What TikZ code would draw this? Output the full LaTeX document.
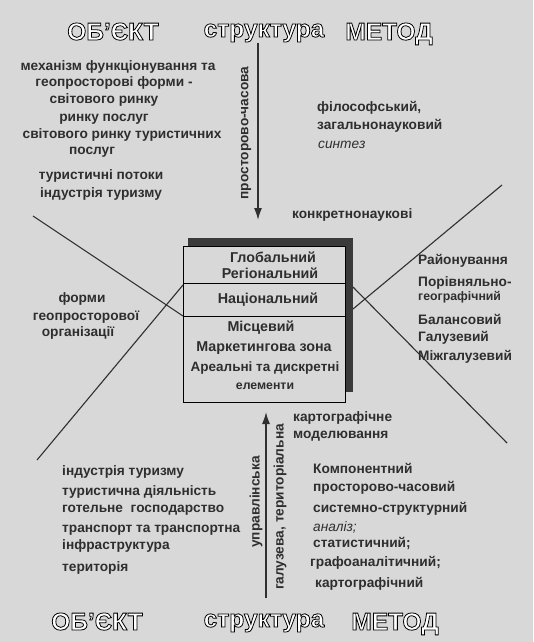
\documentclass[tikz,border=0pt]{standalone}
\usepackage{fontspec}
\setmainfont{Liberation Sans}
\usetikzlibrary{arrows.meta}
\definecolor{bgcol}{HTML}{D8D8D8}
\definecolor{inkcol}{HTML}{2E2E2E}
\definecolor{linecol}{HTML}{303030}
\definecolor{shadecol}{HTML}{3A3A3A}
\newcommand{\outlinetext}[1]{{\color{white}\special{pdf:literal direct 0 G 2 Tr 0.8 w}#1\special{pdf:literal direct 0 Tr}}}
\tikzset{
  txt/.style={font=\bfseries\fontsize{13.7}{16}\selectfont, text=inkcol, inner sep=0pt},
  txtbox/.style={font=\bfseries\fontsize{14.3}{16}\selectfont, text=inkcol, inner sep=0pt},
  txtboxw/.style={font=\bfseries\fontsize{13.5}{16}\selectfont, text=inkcol, inner sep=0pt},
  txtit/.style={font=\itshape\fontsize{13.7}{16}\selectfont, text=inkcol, inner sep=0pt},
  txtsmall/.style={font=\bfseries\fontsize{12.3}{14}\selectfont, text=inkcol, inner sep=0pt},
  head/.style={font=\bfseries\fontsize{24.5}{28}\selectfont, inner sep=0pt, anchor=base},
  xline/.style={draw=linecol, line width=1.1pt},
  arr/.style={draw=linecol, line width=1.5pt, -{Latex[length=12pt,width=8pt]}},
  mainbox/.style={draw=black, line width=0.9pt, fill=bgcol, minimum width=162pt, minimum height=156pt, inner sep=0pt},
}
\begin{document}
\begin{tikzpicture}[x=1pt,y=-1pt]
\fill[bgcol] (0,0) rectangle (533,642);
\useasboundingbox (0,0) rectangle (533,642);

% X lines
\coordinate (aS) at (33,216);  \coordinate (aE) at (183,316);
\coordinate (bS) at (502,185); \coordinate (bE) at (353,309);
\coordinate (cS) at (183,285); \coordinate (cE) at (37,460);
\coordinate (dS) at (353,287); \coordinate (dE) at (507,443);
\draw[xline] (aS) -- (aE);
\draw[xline] (bS) -- (bE);
\draw[xline] (cS) -- (cE);
\draw[xline] (dS) -- (dE);

% box with shadow
\fill[shadecol] (188,238) rectangle (353,392);
\node[mainbox] (box) at (264,324) {};
\draw[black, line width=0.9pt] (183,283) -- (345,283);
\draw[black, line width=0.9pt] (183,316) -- (345,316);

\node[txtbox] (g1) at (273,257) {Глобальний};
\node[txtbox] (g2) at (270,273) {Регіональний};
\node[txtbox] (g3) at (268,300) {Національний};
\node[txtbox] (g4) at (261,328) {Місцевий};
\node[txtbox] (g5) at (264,348) {Маркетингова зона};
\node[txtboxw] (g6) at (265,368) {Ареальні та дискретні};
\node[txtsmall] (g7) at (265,386) {елементи};

% arrows
\coordinate (upS) at (258,43);  \coordinate (upE) at (258,220);
\coordinate (loS) at (266,598); \coordinate (loE) at (266,412);
\draw[arr] (upS) -- (upE);
\draw[arr] (loS) -- (loE);
\node[txt, rotate=90] (lab1) at (246,133) {просторово-часова};
\node[txt, rotate=90] (lab2) at (256,502) {управлінська};
\node[txt, rotate=90] (lab3) at (280,507) {галузева, територіальна};

% top left
\node[txt] (o1) at (118,67) {механізм функціонування та};
\node[txt] (o2) at (114,83) {геопросторові форми -};
\node[txt] (o3) at (104,100) {світового ринку};
\node[txt] (o4) at (104,119) {ринку послуг};
\node[txt] (o5) at (122,135) {світового ринку туристичних};
\node[txt] (o6) at (92,152) {послуг};
\node[txt] (o7) at (101,176) {туристичні потоки};
\node[txt] (o8) at (101,194) {індустрія туризму};

% top right
\node[txt, anchor=west] (m1) at (317,108) {філософський,};
\node[txt, anchor=west] (m2) at (317,126) {загальнонауковий};
\node[txtit, anchor=west] (m3) at (318,145) {синтез};
\node[txt, anchor=west] (m4) at (292,215) {конкретнонаукові};

% left middle
\node[txt] (f1) at (82,299) {форми};
\node[txt] (f2) at (86,317) {геопросторової};
\node[txt] (f3) at (78,333) {організації};

% right middle
\node[txt, anchor=west] (r1) at (418,261) {Районування};
\node[txt, anchor=west] (r2) at (418,283) {Порівняльно-};
\node[txtsmall, anchor=west] (r3) at (418,297) {географічний};
\node[txt, anchor=west] (r4) at (418,319) {Балансовий};
\node[txt, anchor=west] (r5) at (418,338) {Галузевий};
\node[txt, anchor=west] (r6) at (418,357) {Міжгалузевий};

% bottom right
\node[txt, anchor=west] (k1) at (293,418) {картографічне};
\node[txt, anchor=west] (k2) at (293,436) {моделювання};
\node[txt, anchor=west] (k3) at (313,468) {Компонентний};
\node[txt, anchor=west] (k4) at (313,488) {просторово-часовий};
\node[txt, anchor=west] (k5) at (313,509) {системно-структурний};
\node[txtit, anchor=west] (k6) at (313,527) {аналіз;};
\node[txt, anchor=west] (k7) at (313,543) {статистичний;};
\node[txt, anchor=west] (k8) at (310,563) {графоаналітичний;};
\node[txt, anchor=west] (k9) at (315,584) {картографічний};

% bottom left
\node[txt, anchor=west] (b1) at (62,472) {індустрія туризму};
\node[txt, anchor=west] (b2) at (62,492) {туристична діяльність};
\node[txt, anchor=west] (b3) at (62,510) {готельне\ \ господарство};
\node[txt, anchor=west] (b4) at (62,530) {транспорт та транспортна};
\node[txt, anchor=west] (b5) at (62,546) {інфраструктура};
\node[txt, anchor=west] (b6) at (62,568) {територія};

% headings
\node[head] (h1) at (113,40) {\outlinetext{ОБ'ЄКТ}};
\node[head] (h2) at (264,37) {\outlinetext{структура}};
\node[head] (h3) at (389,40) {\outlinetext{МЕТОД}};
\node[head] (h4) at (97,630) {\outlinetext{ОБ'ЄКТ}};
\node[head] (h5) at (264,627) {\outlinetext{структура}};
\node[head] (h6) at (395,630) {\outlinetext{МЕТОД}};
\end{tikzpicture}
\end{document}
